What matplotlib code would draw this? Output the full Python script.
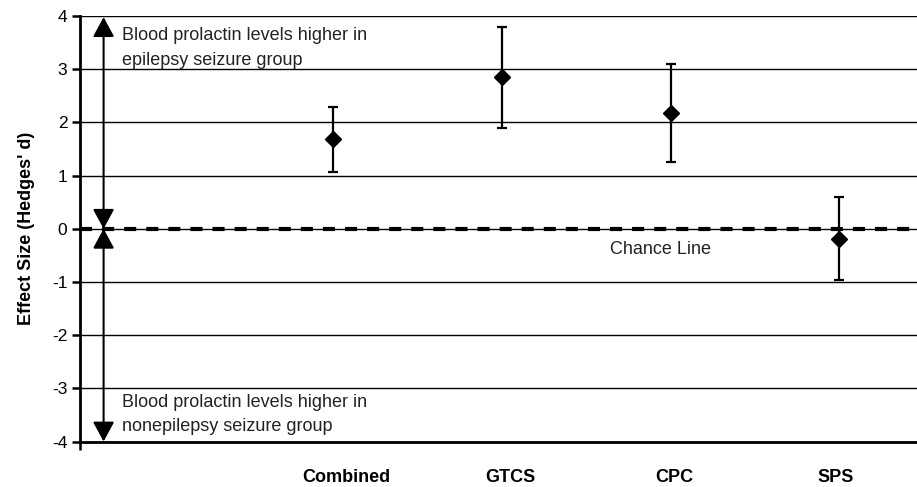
import numpy as np
import matplotlib.pyplot as plt

FONT = ['Liberation Sans', 'DejaVu Sans']
plt.rcParams['font.family'] = FONT

# data
groups = ['Combined', 'GTCS', 'CPC', 'SPS']
effect = [1.68, 2.86, 2.18, -0.19]
ci_low = [1.06, 1.89, 1.25, -0.97]
ci_high = [2.29, 3.80, 3.09, 0.60]
yticks = [-4, -3, -2, -1, 0, 1, 2, 3, 4]

xpos = np.arange(1, len(groups) + 1)
label_pos = xpos + np.array([0.08, 0.05, 0.02, -0.02])
err = [np.array(effect) - np.array(ci_low), np.array(ci_high) - np.array(effect)]

fig = plt.figure(figsize=(9.17, 4.87), dpi=100)
ax = fig.add_axes([0.0872, 0.0934, 0.9128, 0.8736])

# grid lines
for y in yticks:
    ax.axhline(y, color='black', lw=1.0, zorder=1)
# chance line
ax.axhline(0, color='black', lw=3.0, ls=(0, (2.9, 2.4)), zorder=2)

ax.errorbar(xpos, effect, yerr=err, fmt='D', color='black', ms=8,
            elinewidth=1.6, capsize=3.6, capthick=1.6, zorder=3)

# double arrows on the left
ax_x = -0.36
for y0, y1 in [(0, 3.98), (0, -4)]:
    ax.annotate('', xy=(ax_x, y1), xytext=(ax_x, y0),
                arrowprops=dict(arrowstyle='<|-|>,head_length=1.2,head_width=0.65',
                                color='black', lw=1.5, shrinkA=0, shrinkB=0,
                                mutation_scale=10), zorder=4)

txt_kw = dict(fontsize=13, va='center', ha='left', linespacing=1.55, color='#222222')
ax.text(-0.25, 3.40, 'Blood prolactin levels higher in\nepilepsy seizure group', **txt_kw)
ax.text(-0.25, -3.50, 'Blood prolactin levels higher in\nnonepilepsy seizure group', **txt_kw)
ax.text(2.94, -0.39, 'Chance Line', fontsize=13, ha='center', va='center', color='#222222')

ax.set_xlim(-0.5, 4.46)
ax.set_ylim(-4, 4)
ax.set_yticks(yticks)
ax.set_yticklabels([str(v) for v in yticks], fontsize=12.5)
ax.tick_params(axis='y', length=6, width=1.8, pad=3)
ax.set_xticks([-0.5])
ax.set_xticklabels([''])
ax.tick_params(axis='x', length=6, width=1.8, direction='out')

for i, g in enumerate(groups):
    ax.text(label_pos[i], -4.67, g, fontsize=13, fontweight='bold',
            ha='center', va='center')

ax.set_ylabel("Effect Size (Hedges' d)", fontsize=13, fontweight='bold', labelpad=12)

for s in ['top', 'right']:
    ax.spines[s].set_visible(False)
ax.spines['left'].set_linewidth(2.0)
ax.spines['bottom'].set_linewidth(2.0)

fig.savefig('out.png', dpi=100)
